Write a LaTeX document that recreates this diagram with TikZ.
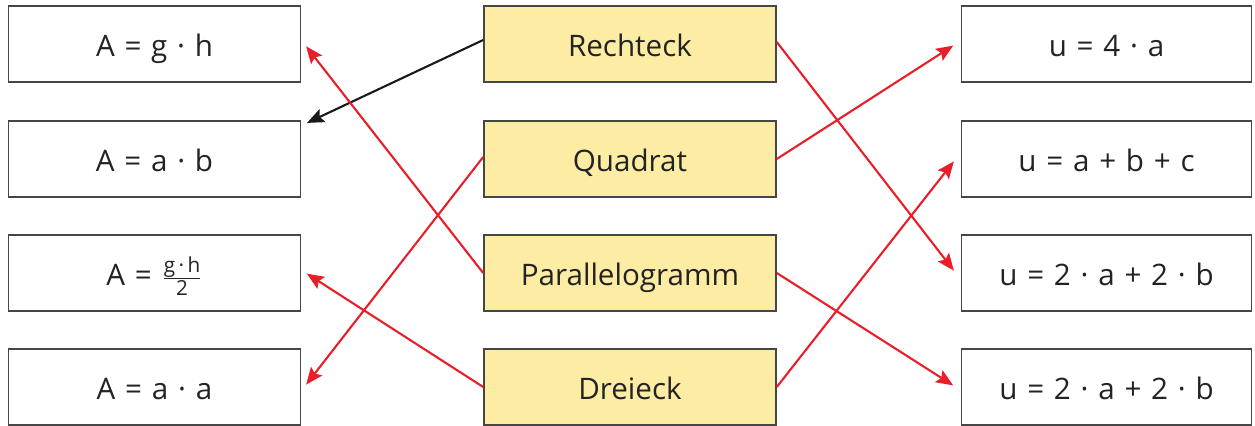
\documentclass[tikz,border=0pt]{standalone}
\usepackage{amsmath}
\usepackage{fontspec}
\setmainfont{Open Sans}
\usetikzlibrary{arrows.meta}
\definecolor{boxfill}{RGB}{252,236,164}
\definecolor{boxline}{RGB}{70,70,70}
\definecolor{arr}{RGB}{232,30,40}
\definecolor{txt}{RGB}{35,35,35}
\newcommand\gp{\hspace{0.33em}}
\tikzset{
  fbox/.style={draw=boxline, line width=0.8pt, minimum height=38pt, inner sep=0pt, text=txt, text height=13pt, text depth=0pt, font=\fontsize{14.8}{17}\selectfont},
  lbox/.style={fbox, minimum width=146pt},
  mbox/.style={fbox, minimum width=146pt, fill=boxfill},
  rbox/.style={fbox, minimum width=145pt},
  conn/.style={line width=1.05pt, draw=arr, -{Stealth[length=8.5pt,width=7pt,inset=1.5pt]}, shorten >=1.5pt},
  bconn/.style={conn, draw=black!90}
}
\begin{document}
\begin{tikzpicture}[x=0.5pt,y=-0.5pt]
\useasboundingbox (0,0) rectangle (1255,426);
% left
\node[lbox] (gh) at (154.5,44) {A\gp=\gp g\gp·\gp h};
\node[lbox] (ab) at (154.5,159) {A\gp=\gp a\gp·\gp b};
\node[lbox, text height=18pt, text depth=5pt] (gh2) at (154.5,273) {A\gp=\gp$\frac{\text{g\,·\,h}}{\text{2}}$};
\node[lbox] (aa) at (154.5,387) {A\gp=\gp a\gp·\gp a};
% middle
\node[mbox] (re) at (630,44) {Rechteck};
\node[mbox] (qu) at (630,159) {Quadrat};
\node[mbox] (pa) at (630,273) {Parallelogramm};
\node[mbox] (dr) at (630,387) {Dreieck};
% right
\node[rbox] (u4) at (1106.5,44) {u\gp=\gp 4\gp·\gp a};
\node[rbox] (uabc) at (1106.5,159) {u\gp=\gp a\gp+\gp b\gp+\gp c};
\node[rbox] (u2a) at (1106.5,273) {u\gp=\gp 2\gp·\gp a\gp+\gp 2\gp·\gp b};
\node[rbox] (u2b) at (1106.5,387) {u\gp=\gp 2\gp·\gp a\gp+\gp 2\gp·\gp b};
% connectors
\draw[bconn] ([yshift=2pt]re.west) -- ([xshift=1.5pt,yshift=-2pt]ab.north east);
\draw[conn] (pa.west) -- ([xshift=1.5pt]gh.east);
\draw[conn] ([yshift=1pt]qu.west) -- ([xshift=1.5pt]aa.east);
\draw[conn] (dr.west) -- ([xshift=1.5pt,yshift=0.5pt]gh2.east);
\draw[conn] ([yshift=1pt]re.east) -- ([xshift=-2.5pt]u2a.west);
\draw[conn] (qu.east) -- ([xshift=-2.5pt]u4.west);
\draw[conn] (pa.east) -- ([xshift=-2.5pt]u2b.west);
\draw[conn] (dr.east) -- ([xshift=-2.5pt]uabc.west);
\end{tikzpicture}
\end{document}
